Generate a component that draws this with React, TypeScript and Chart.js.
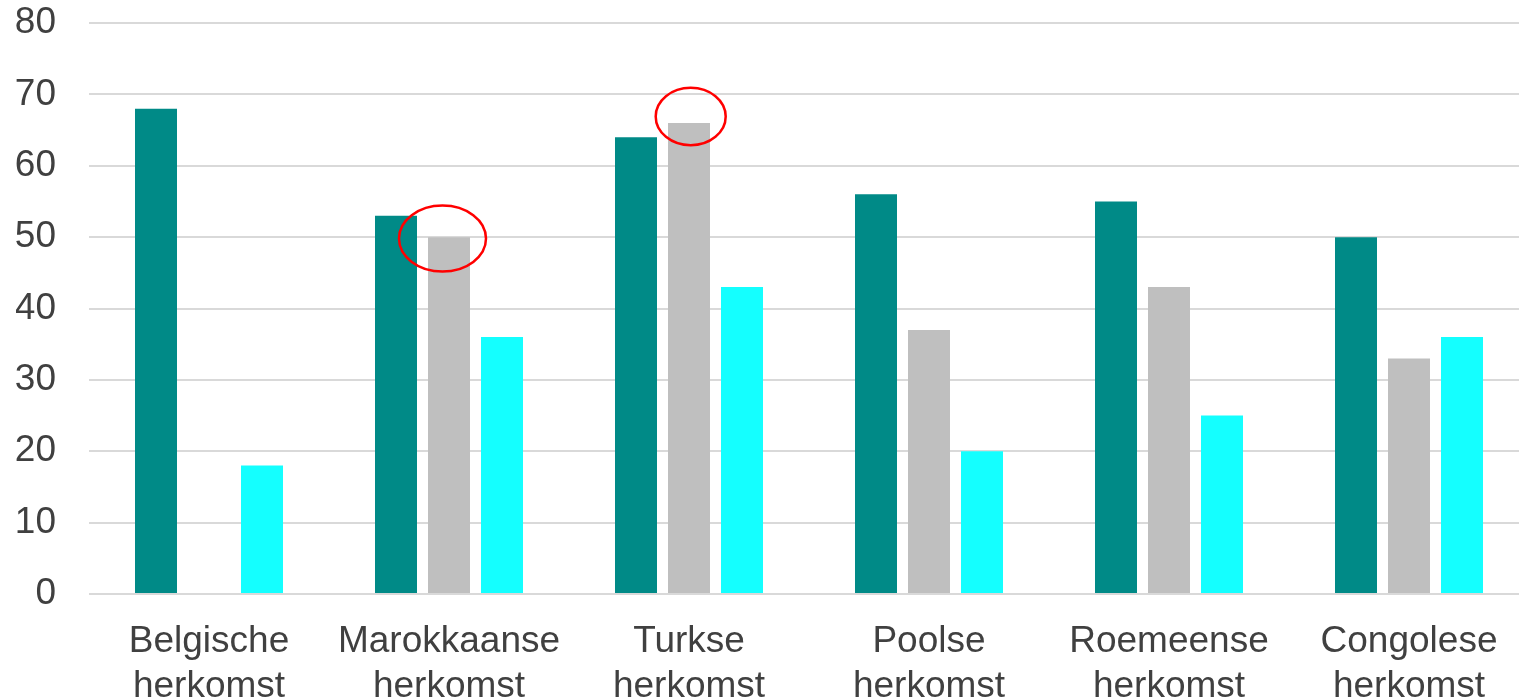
import React, { useEffect, useRef } from "react";
import { Chart, registerables } from "chart.js";

Chart.register(...registerables);

const categories: string[][] = [
  ["Belgische", "herkomst"],
  ["Marokkaanse", "herkomst"],
  ["Turkse", "herkomst"],
  ["Poolse", "herkomst"],
  ["Roemeense", "herkomst"],
  ["Congolese", "herkomst"],
];
const seriesTeal: (number | null)[] = [68, 53, 64, 56, 55, 50];
const seriesGray: (number | null)[] = [null, 50, 66, 37, 43, 33];
const seriesCyan: (number | null)[] = [18, 36, 43, 20, 25, 36];
const yTicks: number[] = [0, 10, 20, 30, 40, 50, 60, 70, 80];

// highlighted bars: category index and value at the ellipse centre
const highlightCategories: number[] = [1, 2];
const highlightValues: number[] = [49.8, 66.9];

const FONT = "'Liberation Sans', Arial, Helvetica, sans-serif";

const ellipsePlugin = {
  id: "ellipses",
  afterDatasetsDraw(chart: any, _args: any, opts: any) {
    const ctx = chart.ctx;
    const meta = chart.getDatasetMeta(1);
    const yScale = chart.scales.y;
    const shapes = opts.shapes || [];
    ctx.save();
    ctx.strokeStyle = "#FF0000";
    ctx.lineWidth = 2.5;
    highlightCategories.forEach((cat, i) => {
      const el = meta.data[cat];
      if (!el) return;
      const s = shapes[i] || { dx: 0, rx: 40, ry: 30 };
      const cx = el.x + s.dx;
      const cy = yScale.getPixelForValue(highlightValues[i]);
      ctx.beginPath();
      ctx.ellipse(cx, cy, s.rx, s.ry, 0, 0, Math.PI * 2);
      ctx.stroke();
    });
    ctx.restore();
  },
};

export default function App() {
  const ref = useRef<HTMLCanvasElement | null>(null);
  useEffect(() => {
    if (!ref.current) return;
    const chart = new Chart(ref.current, {
      type: "bar",
      data: {
        labels: categories,
        datasets: [
          { data: seriesTeal, backgroundColor: "#008A87" },
          { data: seriesGray, backgroundColor: "#BFBFBF" },
          { data: seriesCyan, backgroundColor: "#14FFFF" },
        ],
      },
      options: {
        responsive: false,
        animation: false,
        devicePixelRatio: 1,
        layout: { padding: { left: 16, right: 11, top: 23, bottom: 0 } },
        datasets: {
          bar: { barPercentage: 0.7925, categoryPercentage: 0.6625 },
        },
        plugins: {
          legend: { display: false },
          tooltip: { enabled: false },
          ellipses: {
            shapes: [
              { dx: -6.5, rx: 43.5, ry: 33 },
              { dx: 1.7, rx: 35, ry: 28.7 },
            ],
          },
        } as any,
        scales: {
          x: {
            grid: { display: false, drawTicks: false },
            border: { display: false },
            afterFit: (axis: any) => {
              axis.height = 108;
              axis.paddingLeft = 0;
              axis.paddingRight = 0;
            },
            ticks: {
              padding: 26,
              color: "#404040",
              font: { family: FONT, size: 37, lineHeight: 1.2 },
              maxRotation: 0,
              autoSkip: false,
            },
          },
          y: {
            min: 0,
            max: 80,
            afterBuildTicks: (axis: any) => {
              axis.ticks = yTicks.map((v) => ({ value: v }));
            },
            afterFit: (axis: any) => {
              axis.width = 73;
              axis.paddingTop = 0;
              axis.paddingBottom = 0;
            },
            grid: { color: "#D9D9D9", lineWidth: 2, drawTicks: false },
            border: { display: false },
            ticks: {
              padding: 33,
              color: "#404040",
              font: { family: FONT, size: 37 },
            },
          },
        },
      },
      plugins: [ellipsePlugin],
    });
    return () => chart.destroy();
  }, []);
  return (
    <div
      style={{
        position: "fixed",
        left: 0,
        top: 0,
        width: 1519,
        height: 697,
        overflow: "hidden",
        background: "#fff",
      }}
    >
      <canvas
        ref={ref}
        width={1540}
        height={702}
        style={{ display: "block", width: 1540, height: 702 }}
      />
    </div>
  );
}
